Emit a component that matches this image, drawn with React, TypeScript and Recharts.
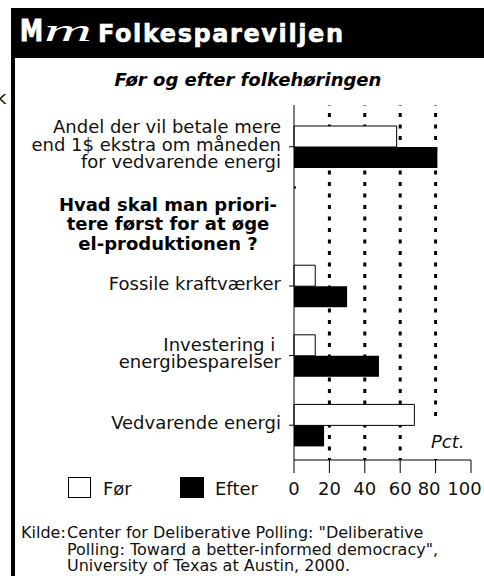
import React from "react";
import { BarChart, Bar, XAxis, YAxis, CartesianGrid } from "recharts";

// labels, one line per "\n"
const categories = [
  "Andel der vil betale mere\nend 1$ ekstra om måneden\nfor vedvarende energi",
  "Hvad skal man priori-\ntere først for at øge\nel-produktionen ?",
  "Fossile kraftværker",
  "Investering i \nenergibesparelser",
  "Vedvarende energi",
];
const before = [58, null, 12, 12, 68];
const after = [81, null, 30, 48, 17];
const xTicks = [0, 20, 40, 60, 80, 100];
const gridValues = [20, 40, 60, 80];
const headerLabel = categories[1];

const sourceLines = [
  'Center for Deliberative Polling: "Deliberative',
  'Polling: Toward a better-informed democracy",',
  "University of Texas at Austin, 2000.",
];

const data = categories.map((name, i) => ({
  name,
  before: before[i],
  after: after[i],
}));

const FONT = "'DejaVu Sans', Verdana, sans-serif";

function CategoryTick(props: any) {
  const { x, y, payload } = props;
  const lines = String(payload.value).split("\n");
  const axisX = x + 13;

  if (payload.value === headerLabel) {
    return (
      <g>
        <line x1={axisX} x2={axisX + 2} y1={y - 29} y2={y - 29} stroke="#000" strokeWidth={2} />
        <text
          x={x - 113}
          textAnchor="middle"
          fontFamily={FONT}
          fontSize={18}
          fontWeight="bold"
          fill="#000"
        >
          {lines.map((l, i) => (
            <tspan key={i} x={x - 113} y={y - 5.7 + i * 19.5}>
              {l}
            </tspan>
          ))}
        </text>
      </g>
    );
  }

  const n = lines.length;
  return (
    <g>
      <line x1={axisX - 5} x2={axisX} y1={y} y2={y} stroke="#000" />
      <text x={x} textAnchor="end" fontFamily={FONT} fontSize={18} fill="#111">
        {lines.map((l, i) => (
          <tspan key={i} x={x} y={y + 4 + (i - (n - 1) / 2) * 17.5} style={{ whiteSpace: "pre" }}>
            {l}
          </tspan>
        ))}
      </text>
    </g>
  );
}

function ValueTick(props: any) {
  const { x, y, payload } = props;
  // the last two labels sit a bit left in the original
  const dx = payload.value >= 80 ? -6.5 : 0;
  return (
    <text x={x + dx} y={y + 20} textAnchor="middle" fontFamily={FONT} fontSize={18} fill="#111">
      {payload.value}
    </text>
  );
}

export default function App() {
  return (
    <div
      style={{
        position: "absolute",
        left: 0,
        top: 0,
        width: 484,
        height: 576,
        background: "#fff",
        overflow: "hidden",
      }}
    >
      <BarChart
        width={484}
        height={576}
        data={data}
        layout="vertical"
        margin={{ top: 105, right: 13, bottom: 76, left: 0 }}
        barGap={0}
      >
        <CartesianGrid
          horizontal={false}
          vertical
          verticalValues={gridValues}
          stroke="#000"
          strokeWidth={3}
          strokeDasharray="4 7.5"
          strokeDashoffset={-8}
        />
        <XAxis
          type="number"
          domain={[0, 100]}
          ticks={xTicks}
          interval={0}
          tickSize={13}
          tickMargin={2}
          height={40}
          axisLine={{ stroke: "#000" }}
          tickLine={{ stroke: "#000" }}
          tick={<ValueTick />}
        />
        <XAxis
          xAxisId="top"
          orientation="top"
          type="number"
          domain={[0, 100]}
          height={0}
          tick={false}
          tickLine={false}
          axisLine={{ stroke: "#000" }}
        />
        <YAxis
          type="category"
          dataKey="name"
          width={294}
          interval={0}
          tickSize={5}
          tickMargin={8}
          tickLine={false}
          padding={{ top: 7, bottom: 0 }}
          axisLine={{ stroke: "#000" }}
          tick={<CategoryTick />}
        />
        <YAxis
          yAxisId="right"
          orientation="right"
          type="category"
          dataKey="name"
          width={0}
          tick={false}
          tickLine={false}
          axisLine={{ stroke: "#000" }}
        />
        <Bar
          dataKey="before"
          name="Før"
          fill="#fff"
          stroke="#000"
          strokeWidth={1}
          barSize={21}
          isAnimationActive={false}
        />
        <Bar
          dataKey="after"
          name="Efter"
          fill="#000"
          barSize={21}
          isAnimationActive={false}
        />
      </BarChart>

      <svg
        width={484}
        height={576}
        style={{ position: "absolute", left: 0, top: 0, pointerEvents: "none" }}
      >
        {/* frame */}
        <rect x={11} y={8} width={473} height={50} fill="#000" />
        <rect x={11} y={8} width={4} height={568} fill="#000" />
        <text x={-4} y={104} fontFamily={FONT} fontSize={18} fill="#111">k</text>

        {/* masthead */}
        <text
          x={20}
          y={41}
          fontFamily="'DejaVu Sans Condensed', 'DejaVu Sans', sans-serif"
          fontWeight="bold"
          fontSize={30}
          fill="#fff"
          stroke="#fff"
          strokeWidth={1}
          textLength={23}
          lengthAdjust="spacingAndGlyphs"
        >
          M
        </text>
        <text
          x={44}
          y={41}
          fontFamily="'Liberation Serif', serif"
          fontStyle="italic"
          fontSize={32}
          fill="#fff"
          textLength={48}
          lengthAdjust="spacingAndGlyphs"
        >
          m
        </text>
        <text
          x={98}
          y={42}
          fontFamily={FONT}
          fontWeight="bold"
          fontSize={24}
          fill="#fff"
          stroke="#fff"
          strokeWidth={0.6}
          textLength={245}
          lengthAdjust="spacing"
        >
          Folkespareviljen
        </text>

        <text
          x={248}
          y={86}
          textAnchor="middle"
          fontFamily={FONT}
          fontWeight="bold"
          fontStyle="italic"
          fontSize={18}
          fill="#000"
        >
          Før og efter folkehøringen
        </text>

        {/* unit label on white patch */}
        <rect x={420} y={418} width={50} height={41} fill="#fff" />
        <text x={431} y={448} fontFamily={FONT} fontStyle="italic" fontSize={18} fill="#111">
          Pct.
        </text>

        {/* legend */}
        <rect x={68.5} y={477.5} width={22} height={20} fill="#fff" stroke="#000" />
        <text x={103} y={495} fontFamily={FONT} fontSize={18} fill="#111">Før</text>
        <rect x={180} y={477} width={24} height={21} fill="#000" />
        <text x={215} y={495} fontFamily={FONT} fontSize={18} fill="#111">Efter</text>

        {/* source */}
        <text x={21} y={538} fontFamily={FONT} fontSize={16} fill="#111">Kilde:</text>
        {sourceLines.map((l, i) => (
          <text key={i} x={67} y={538 + i * 16.7} fontFamily={FONT} fontSize={16} fill="#111">
            {l}
          </text>
        ))}
      </svg>
    </div>
  );
}
